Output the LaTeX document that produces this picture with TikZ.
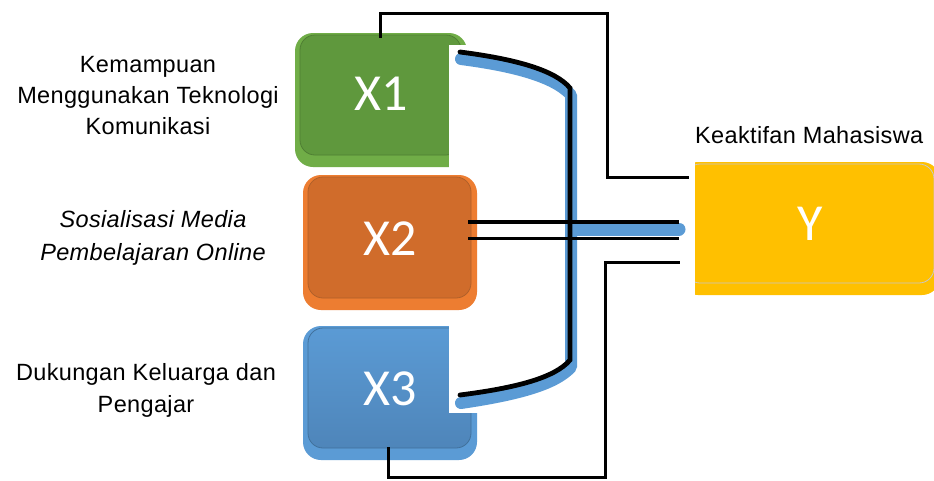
\documentclass[tikz,border=0pt]{standalone}
\usepackage{fontspec}
\setmainfont{Liberation Sans}
\newfontfamily\lblfont[LetterSpace=1.5]{Liberation Sans}
\newfontfamily\boxfont{Carlito}

\definecolor{xoneout}{HTML}{70AD47}
\definecolor{xonein}{HTML}{5F983D}
\definecolor{xoneedge}{HTML}{4F7F33}
\definecolor{xtwoout}{HTML}{ED7D31}
\definecolor{xtwoin}{HTML}{D06C2B}
\definecolor{xtwoedge}{HTML}{B0602A}
\definecolor{xthreeout}{HTML}{5B9BD5}
\definecolor{xthreetop}{HTML}{5B9BD5}
\definecolor{xthreebot}{HTML}{4D83B7}
\definecolor{xthreeedge}{HTML}{41719C}
\definecolor{yfill}{HTML}{FFC000}
\definecolor{yedge}{HTML}{C8C8C8}
\definecolor{shadowblue}{HTML}{5B9BD5}

\tikzset{
  varbox/.style n args={3}{
    fill=#1, rounded corners=18pt, inner sep=0pt,
    font=\boxfont\fontsize{52}{52}\selectfont, text=white,
    text height=33.5pt,
    path picture={
      \path[#2, draw=#3, line width=0.8pt, rounded corners=15pt]
        ([xshift=5pt,yshift=-2pt]path picture bounding box.north west)
        rectangle ([xshift=-6pt,yshift=12pt]path picture bounding box.south east);
    }
  },
  lbl/.style={font=\lblfont\fontsize{23.5}{31}\selectfont, align=center, inner sep=0pt},
  wire/.style={draw=black, line width=3pt},
  brace/.style={draw=black, line width=4.8pt, line cap=round},
  braceshadow/.style={draw=shadowblue, line width=12pt, line cap=round, line join=round},
}

\begin{document}
\begin{tikzpicture}[x=1pt,y=-1pt]
\useasboundingbox (0,0) rectangle (934,480);
\fill[white] (0,0) rectangle (934,480);

% variable boxes
\node[varbox={xoneout}{fill=xonein}{xoneedge}, minimum width=172pt, minimum height=134pt,
      text depth=12pt] (x1) at (381,100) {X1};
\node[varbox={xtwoout}{fill=xtwoin}{xtwoedge}, minimum width=174pt, minimum height=135pt,
      text depth=7pt] (x2) at (390,242.5) {X2};
\node[varbox={xthreeout}{top color=xthreetop, bottom color=xthreebot}{xthreeedge},
      minimum width=174pt, minimum height=134pt, text depth=8pt] (x3) at (390,393) {X3};

% dependent variable box, cut straight on the left
\begin{scope}
  \clip (695,150) rectangle (934,300);
  \node[varbox={yfill}{fill=yfill}{yedge}, minimum width=260pt, minimum height=133pt,
        text depth=9pt] (y) at (810,228.5) {Y};
\end{scope}

% white backing of the brace
\fill[white] (449,45) rectangle (482,170);
\fill[white] (449,318) rectangle (482,413);

% blue shadow of the brace and the arrow band
\draw[braceshadow] (461,59) .. controls (515,66) and (555,77) .. (571,95) -- (571,367)
      .. controls (555,385) and (515,395) .. (461,403);
\draw[draw=shadowblue, line width=13pt, line cap=round] (576,229) -- (679,229);

% brace joining X1 and X3
\coordinate (bt) at (460,52);
\coordinate (bc1) at (570,88);
\coordinate (bc2) at (570,360);
\coordinate (bb) at (460,395);
\draw[brace] (bt) .. controls (515,59) and (555,70) .. (bc1) -- (bc2)
      .. controls (555,378) and (515,388) .. (bb);

% double line from X2 to Y
\draw[draw=black, line width=4.5pt] ([xshift=-9pt,yshift=20.5pt]x2.east) -- ([xshift=-1pt,yshift=6.5pt]y.west);
\draw[draw=black, line width=3pt] ([xshift=-9pt,yshift=4.5pt]x2.east) -- ([xshift=-1pt,yshift=-9.5pt]y.west);

% frame lines from X1 and X3 to Y
\coordinate (tr) at (607,13);
\coordinate (br) at (605,477);
\draw[wire] ([xshift=-1pt,yshift=-5pt]x1.north) |- (tr) |- ([xshift=9pt,yshift=51.5pt]y.west);
\draw[wire] ([xshift=-2pt,yshift=13pt]x3.south) |- (br) |- ([yshift=-33.5pt]y.west);

% labels
\node[lbl, anchor=north] (l1) at (148,56) {Kemampuan\\Menggunakan Teknologi\\Komunikasi};
\node[lbl, anchor=north, font=\lblfont\itshape\fontsize{23.5}{33}\selectfont] (l2) at (153,210)
     {Sosialisasi Media\\Pembelajaran Online};
\node[lbl, anchor=north, font=\lblfont\fontsize{23.5}{32}\selectfont] (l3) at (146,363)
     {Dukungan Keluarga dan\\Pengajar};
\node[lbl, anchor=base west] (ly) at (695,143) {Keaktifan Mahasiswa};
\end{tikzpicture}
\end{document}
